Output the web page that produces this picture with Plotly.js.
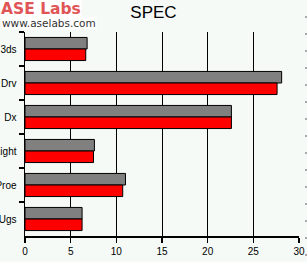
<!DOCTYPE html>
<html>
<head>
<meta charset="utf-8">
<script src="https://cdn.plot.ly/plotly-3.0.1.min.js"></script>
<style>html,body{margin:0;padding:0;background:#f5faf6;}#chart{width:307px;height:262px;}</style>
</head>
<body>
<div id="chart"></div>
<script>
var categories = ["3ds", "Drv", "Dx", "Light", "Proe", "Ugs"];
var seriesGray = [6.8, 28.1, 22.6, 7.6, 11.0, 6.25];
var seriesRed = [6.65, 27.6, 22.6, 7.5, 10.7, 6.25];
var xTicks = [0, 5, 10, 15, 20, 25, 30];

var traces = [
  {type: "bar", orientation: "h", y: categories, x: seriesGray, name: "A",
   marker: {color: "#808080", line: {color: "#000", width: 1}}, hoverinfo: "none"},
  {type: "bar", orientation: "h", y: categories, x: seriesRed, name: "B",
   marker: {color: "#ff0000", line: {color: "#000", width: 1}}, hoverinfo: "none"}
];

var layout = {
  width: 307, height: 262,
  margin: {l: 25, r: 8, t: 32, b: 26, pad: 0},
  paper_bgcolor: "#f5faf6", plot_bgcolor: "#f5faf6",
  showlegend: false,
  barmode: "group", bargap: 0.32, bargroupgap: 0,
  font: {family: "Liberation Sans, Arial, sans-serif", size: 10, color: "#000"},
  title: {text: "SPEC", xref: "container", x: 0.5, xanchor: "center", yref: "container", y: 0.955, yanchor: "middle",
          font: {family: "Liberation Sans, Arial, sans-serif", size: 17, color: "#000"}},
  xaxis: {range: [0, 30], tickvals: xTicks, ticktext: xTicks.map(String),
          showgrid: true, gridcolor: "#000", gridwidth: 1, zeroline: false,
          showline: true, linecolor: "#000", linewidth: 1.5,
          ticks: "outside", ticklen: 5, tickcolor: "#000", tickwidth: 1.5,
          fixedrange: true, automargin: false},
  yaxis: {type: "category", autorange: "reversed", tickson: "boundaries",
          showgrid: false, zeroline: false, showline: true, linecolor: "#000", linewidth: 1.5,
          ticks: "outside", ticklen: 5, tickcolor: "#000", tickwidth: 1.5,
          ticklabelstandoff: 5, fixedrange: true, automargin: false},
  annotations: [
    {text: "<b>ASE Labs</b>", xref: "paper", yref: "paper", x: -25/274, y: 1 + 33/204, xanchor: "left", yanchor: "top",
     showarrow: false, font: {family: "DejaVu Sans, sans-serif", size: 15.5, color: "#e05555"}, bgcolor: "#ffffff", borderpad: 0},
    {text: "www.aselabs.com", xref: "paper", yref: "paper", x: -24/274, y: 1 + 16/204, xanchor: "left", yanchor: "top",
     showarrow: false, font: {family: "DejaVu Sans, sans-serif", size: 10.5, color: "#333"}, bgcolor: "#ffffff", borderpad: 0}
  ],
  shapes: [
    {type: "line", xref: "paper", yref: "paper", x0: 1 + 7/274, x1: 1 + 7/274, y0: 1 + 16/204, y1: -26/204,
     line: {color: "#aaaaaa", width: 2, dash: "2px,15px"}}
  ]
};

Plotly.newPlot("chart", traces, layout, {displayModeBar: false, staticPlot: true});
</script>
</body>
</html>
